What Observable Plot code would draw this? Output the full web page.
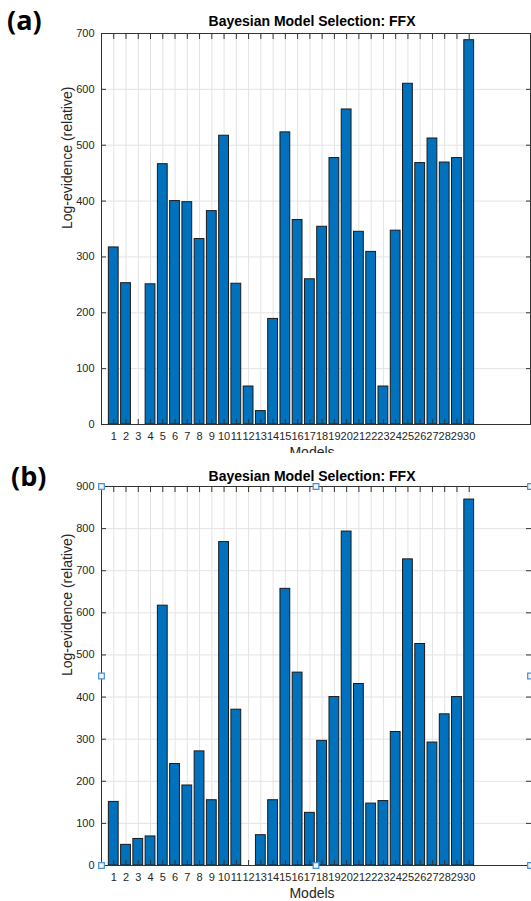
<!DOCTYPE html>
<html><head><meta charset="utf-8">
<script src="https://cdn.jsdelivr.net/npm/d3@7"></script>
<script src="https://cdn.jsdelivr.net/npm/@observablehq/plot@0.6"></script>
<style>
body{margin:0;background:#fff;}
#wrap{position:relative;width:531px;height:901px;overflow:hidden;background:#fff;}
.panel{position:absolute;left:0;width:531px;overflow:hidden;}
.lab{position:absolute;font-family:"Open Sans","Noto Sans",sans-serif;font-weight:bold;font-size:27px;line-height:27px;color:#000;}
</style></head><body>
<div id="wrap">
<div class="panel" id="pa" style="top:0;height:453px"></div>
<div class="panel" id="pb" style="top:453px;height:448px"></div>
<div class="lab" style="left:7px;top:6px">(a)</div>
<div class="lab" style="left:11px;top:462px">(b)</div>
</div>
<script>
const models = [1,2,3,4,5,6,7,8,9,10,11,12,13,14,15,16,17,18,19,20,21,22,23,24,25,26,27,28,29,30];
const evidenceA = [317,253,0,251,466,400,398,332,382,517,252,68,24,189,523,366,260,354,477,564,345,309,68,347,610,468,512,469,477,688];
const evidenceB = [151,49,63,69,617,241,190,271,155,768,370,0,72,155,657,458,125,296,400,793,431,147,153,317,727,526,292,359,400,869];
const yTicksA = [0,100,200,300,400,500,600,700];
const yTicksB = [0,100,200,300,400,500,600,700,800,900];
const xDomain = [0, 35];
const titleText = "Bayesian Model Selection: FFX";
const yLabelText = "Log-evidence (relative)";
const xLabelText = "Models";
// MATLAB selection handles shown on panel (b)
const handleX = [0, 0, 0, 17.5, 17.5, 35, 35, 35];
const handleY = [0, 450, 900, 0, 900, 0, 450, 900];

const AXC = "#333333";
const GRID = "#e3e3e3";

function panel(values, yTicks, o) {
  const data = models.map((m, i) => ({m, v: values[i]}));
  const yMax = yTicks[yTicks.length - 1];
  const marks = [
    Plot.ruleY(yTicks, {stroke: GRID}),
    Plot.ruleX(models, {stroke: GRID}),
    Plot.rectY(data, {x1: d => d.m - 0.4, x2: d => d.m + 0.4, y1: 0, y2: "v", fill: "#0072BD", stroke: "#1a1a1a", strokeWidth: 1}),
    Plot.axisY(yTicks, {anchor: "left", tickSize: 0, tickPadding: 7, label: null, fontSize: 11, tickFormat: d => String(d)}),
    Plot.axisX(models, {anchor: "bottom", tickSize: 0, tickPadding: 8, label: null, fontSize: 11, tickFormat: d => String(d)}),
    Plot.axisY(yTicks, {anchor: "left", tickSize: -5, tickFormat: () => "", label: null, stroke: AXC}),
    Plot.axisY(yTicks, {anchor: "right", tickSize: -5, tickFormat: () => "", label: null, stroke: AXC}),
    Plot.axisX(models, {anchor: "top", tickSize: -5, tickFormat: () => "", label: null, stroke: AXC}),
    Plot.axisX(models, {anchor: "bottom", tickSize: -5, tickFormat: () => "", label: null, stroke: AXC}),
    Plot.ruleY([0, yMax], {stroke: AXC}),
    Plot.ruleX([xDomain[0]], {stroke: AXC}),
    Plot.text([titleText], {frameAnchor: "top", dy: o.titleDy, dx: -4, fontSize: 14, fontWeight: "bold", fill: "#000", lineAnchor: "middle"}),
    Plot.text([yLabelText], {frameAnchor: "left", dx: -34, rotate: -90, fontSize: 14, fill: "#262626", lineAnchor: "middle"}),
    Plot.text([xLabelText], {frameAnchor: "bottom", dy: 28, dx: -4, fontSize: 14, fill: "#262626", lineAnchor: "middle"})
  ];
  if (o.rightBorder) marks.push(Plot.ruleX([xDomain[1]], {stroke: AXC}));
  if (o.handles) marks.push(Plot.dot(handleX.map((x, i) => ({x, y: handleY[i]})), {x: "x", y: "y", symbol: "square", r: 3.2, stroke: "#4a90d0", fill: "#eef5fc", strokeWidth: 1.2}));
  return Plot.plot({
    width: 531, height: o.height,
    marginTop: 33, marginLeft: 101, marginRight: 1, marginBottom: o.mb,
    style: {fontFamily: "Liberation Sans, Arial, sans-serif", fontSize: "11px", color: "#262626", background: "transparent", overflow: "visible"},
    x: {domain: xDomain},
    y: {domain: [0, yMax]},
    marks
  });
}

document.getElementById("pa").append(panel(evidenceA, yTicksA, {height: 470, mb: 46, titleDy: -12, rightBorder: true, handles: false}));
document.getElementById("pb").append(panel(evidenceB, yTicksB, {height: 448, mb: 36, titleDy: -10, rightBorder: false, handles: true}));
</script>
</body></html>
